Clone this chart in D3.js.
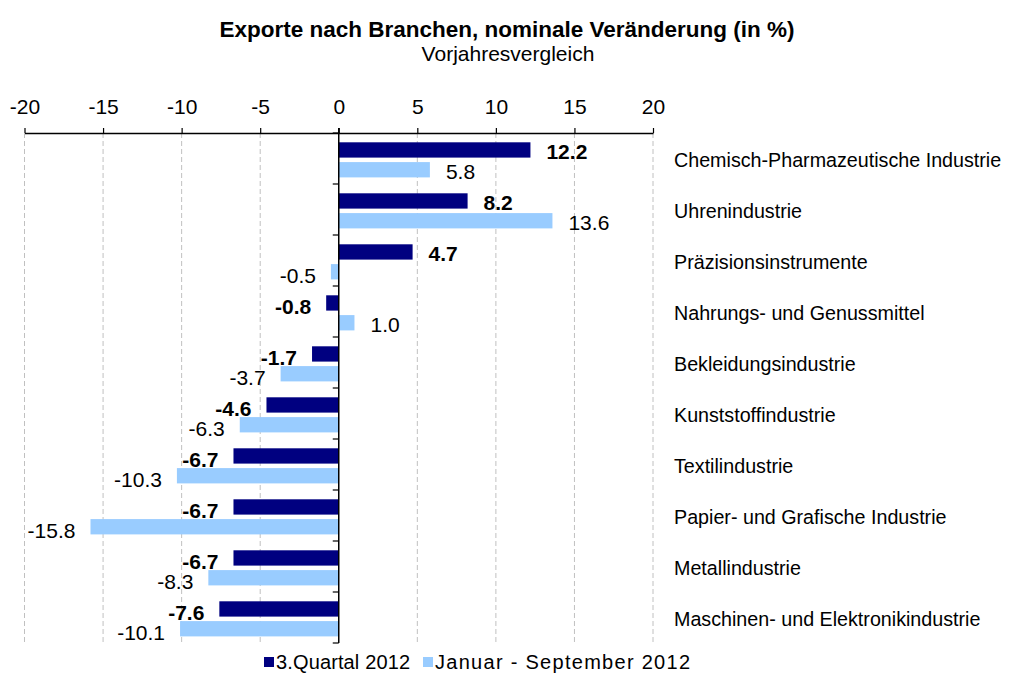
<!DOCTYPE html>
<html>
<head>
<meta charset="utf-8">
<script src="https://cdn.jsdelivr.net/npm/d3@7"></script>
<style>
  body { margin: 0; background: #fff; }
  svg text { font-family: "Liberation Sans", Arial, sans-serif; fill: #000; }
</style>
</head>
<body>
<div id="chart"></div>
<script>
const categories = [
  "Chemisch-Pharmazeutische Industrie",
  "Uhrenindustrie",
  "Präzisionsinstrumente",
  "Nahrungs- und Genussmittel",
  "Bekleidungsindustrie",
  "Kunststoffindustrie",
  "Textilindustrie",
  "Papier- und Grafische Industrie",
  "Metallindustrie",
  "Maschinen- und Elektronikindustrie"
];
const quartal = [12.2, 8.2, 4.7, -0.8, -1.7, -4.6, -6.7, -6.7, -6.7, -7.6];
const janSep = [5.8, 13.6, -0.5, 1.0, -3.7, -6.3, -10.3, -15.8, -8.3, -10.1];
const xTicks = [-20, -15, -10, -5, 0, 5, 10, 15, 20];
const seriesNames = ["3.Quartal 2012", "Januar - September 2012"];
const colors = ["#000080", "#99ccff"];

const width = 1012;
const height = 673;
const margin = {top: 133, right: 359, bottom: 30, left: 24.5};

const svg = d3.select("#chart")
  .append("svg")
  .attr("width", width)
  .attr("height", height);

const data = categories.map((c, i) => ({cat: c, values: [quartal[i], janSep[i]]}));

// scales
const x = d3.scaleLinear()
  .domain([-20, 20])
  .range([margin.left, width - margin.right]);

const y = d3.scaleBand()
  .domain(categories)
  .range([margin.top, height - margin.bottom])
  .padding(0);

const ySub = d3.scaleBand()
  .domain([0, 1])
  .range([9.3, 44.4])
  .paddingInner(0.227);

// title
svg.append("text")
  .attr("x", 507)
  .attr("y", 37)
  .attr("text-anchor", "middle")
  .style("font-size", "22.5px")
  .style("font-weight", "bold")
  .text("Exporte nach Branchen, nominale Veränderung (in %)");

svg.append("text")
  .attr("x", 508)
  .attr("y", 61)
  .attr("text-anchor", "middle")
  .style("font-size", "21px")
  .text("Vorjahresvergleich");

// dashed gridlines
svg.append("g")
  .selectAll("line")
  .data(xTicks.filter(d => d !== 0))
  .join("line")
  .attr("x1", d => x(d))
  .attr("x2", d => x(d))
  .attr("y1", margin.top)
  .attr("y2", height - margin.bottom)
  .attr("stroke", "#c0c0c0")
  .attr("stroke-dasharray", "5,3");

// bars
const groups = svg.append("g")
  .selectAll("g")
  .data(data)
  .join("g")
  .attr("transform", d => `translate(0,${y(d.cat)})`);

groups.selectAll("rect")
  .data(d => d.values.map((v, k) => ({v, k})))
  .join("rect")
  .attr("x", d => x(Math.min(0, d.v)))
  .attr("y", d => ySub(d.k))
  .attr("width", d => Math.abs(x(d.v) - x(0)))
  .attr("height", ySub.bandwidth())
  .attr("fill", d => colors[d.k]);

// value labels (plain hyphen as minus, like the original)
groups.selectAll("text")
  .data(d => d.values.map((v, k) => ({v, k})))
  .join("text")
  .attr("x", d => d.v >= 0 ? x(d.v) + 16 : x(d.v) - 15)
  .attr("y", d => ySub(d.k) + ySub.bandwidth() / 2 + (d.v >= 0 ? 2 : 4))
  .attr("dy", "0.35em")
  .attr("text-anchor", d => d.v >= 0 ? "start" : "end")
  .style("font-size", "21px")
  .style("font-weight", d => d.k === 0 ? "bold" : "normal")
  .text(d => d.v.toFixed(1));

// top x axis
const xAxis = svg.append("g")
  .attr("transform", `translate(0,${margin.top})`)
  .call(d3.axisTop(x)
    .tickValues(xTicks)
    .tickFormat(d => String(d))
    .tickSize(5)
    .tickPadding(14)
    .tickSizeOuter(0));
xAxis.select(".domain").attr("stroke", "#000").attr("stroke-width", 1.5);
xAxis.selectAll(".tick line").attr("stroke", "#000").attr("stroke-width", 1.2);
xAxis.selectAll("text")
  .style("font-size", "21px")
  .style("font-family", "'Liberation Sans', Arial, sans-serif")
  .attr("fill", "#000");

// zero axis with category boundary ticks
const bounds = categories.map(c => y(c)).concat([y.range()[1]]);
svg.append("line")
  .attr("x1", x(0)).attr("x2", x(0))
  .attr("y1", margin.top - 5).attr("y2", height - margin.bottom)
  .attr("stroke", "#000")
  .attr("stroke-width", 1.5);
svg.append("g")
  .selectAll("line")
  .data(bounds)
  .join("line")
  .attr("x1", x(0) - 6)
  .attr("x2", x(0))
  .attr("y1", d => d)
  .attr("y2", d => d)
  .attr("stroke", "#000")
  .attr("stroke-width", 1.2);

// category labels on the right
svg.append("g")
  .selectAll("text")
  .data(categories)
  .join("text")
  .attr("x", 674)
  .attr("y", d => y(d) + y.bandwidth() / 2 + 2)
  .attr("dy", "0.35em")
  .style("font-size", "19.7px")
  .text(d => d);

// legend
const legend = svg.append("g")
  .attr("transform", "translate(264,662)");
const legendX = [0, 159];
const legendLen = [134, 255];
seriesNames.forEach((name, i) => {
  legend.append("rect")
    .attr("x", legendX[i])
    .attr("y", -5)
    .attr("width", 10)
    .attr("height", 10)
    .attr("fill", colors[i]);
  legend.append("text")
    .attr("x", legendX[i] + 12)
    .attr("y", 0)
    .attr("dy", "0.35em")
    .attr("textLength", legendLen[i])
    .attr("lengthAdjust", "spacing")
    .style("font-size", "20px")
    .text(name);
});
</script>
</body>
</html>
